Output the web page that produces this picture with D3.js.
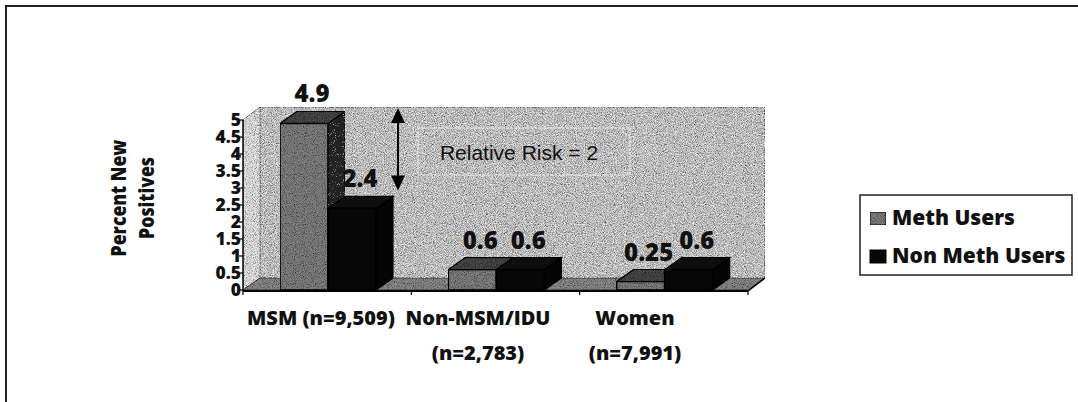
<!DOCTYPE html>
<html><head><meta charset="utf-8">
<script src="https://cdn.jsdelivr.net/npm/d3@7"></script>
<style>
html,body{margin:0;padding:0;background:#fff;}
svg{display:block;}
text{font-family:"Open Sans",sans-serif;font-weight:700;fill:#111;}
</style></head>
<body>
<svg id="chart" width="1078" height="402"></svg>
<script>
const categories = ["MSM (n=9,509)", "Non-MSM/IDU (n=2,783)", "Women (n=7,991)"];
const categoryLines = [["MSM (n=9,509)"], ["Non-MSM/IDU", "(n=2,783)"], ["Women", "(n=7,991)"]];
const seriesNames = ["Meth Users", "Non Meth Users"];
const methUsers = [4.9, 0.6, 0.25];
const nonMethUsers = [2.4, 0.6, 0.6];
const valueLabels = [["4.9", "2.4"], ["0.6", "0.6"], ["0.25", "0.6"]];
const yTicks = [0, 0.5, 1, 1.5, 2, 2.5, 3, 3.5, 4, 4.5, 5];
const yTickLabels = ["0", "0.5", "1", "1.5", "2", "2.5", "3", "3.5", "4", "4.5", "5"];
const axisTitle = ["Percent New", "Positives"];
const annotation = "Relative Risk = 2";

const svg = d3.select("#chart");
const defs = svg.append("defs");
function grain(id, seed, rgb, a, b) {
  const f = defs.append("filter").attr("id", id).attr("x", 0).attr("y", 0).attr("width", 1).attr("height", 1);
  f.append("feTurbulence").attr("type", "fractalNoise").attr("baseFrequency", 1.1).attr("numOctaves", 1).attr("seed", seed).attr("result", "noise");
  f.append("feColorMatrix").attr("in", "noise").attr("type", "matrix")
    .attr("values", `0 0 0 0 ${rgb}  0 0 0 0 ${rgb}  0 0 0 0 ${rgb}  0 0 0 ${a} ${b}`).attr("result", "dots");
  f.append("feComposite").attr("in", "dots").attr("in2", "SourceGraphic").attr("operator", "in").attr("result", "dotsIn");
  f.append("feMerge").call(m => { m.append("feMergeNode").attr("in", "SourceGraphic"); m.append("feMergeNode").attr("in", "dotsIn"); });
}
grain("grain", 3, 0, -2.2, 1.3);
grain("grainW", 5, 1, 2.4, -1.0);
grain("grainSparse", 9, 0.55, 4, -2.5);

// frame
svg.append("path").attr("d", "M6,402 V6 H1078").attr("fill", "none").attr("stroke", "#222").attr("stroke-width", 2);

const x0 = 243, x1 = 748, dx = 17, dy = -12;
const y = d3.scaleLinear().domain([0, 5]).range([290, 120]);
const xBand = d3.scaleBand().domain(categories).range([x0, x1]);
const xSeries = d3.scaleBand().domain(seriesNames).range([37, 133]);
const labelX = d3.scalePoint().domain(categories).range([321, 635]);

const g = svg.append("g");
const yTop = y(5), yBot = y(0);
const wallG = g.append("g").attr("filter", "url(#grainW)");
wallG.append("polygon").attr("points", [[x0+dx, yTop+dy-1],[x1+dx, yTop+dy-1],[x1+dx, yBot+dy],[x0+dx, yBot+dy]].join(" "))
  .attr("fill", "#b3b3b3").attr("stroke", "#333").attr("stroke-width", 1).attr("filter", "url(#grain)");
wallG.append("polygon").attr("points", [[x0, yTop],[x0+dx, yTop+dy-1],[x0+dx, yBot+dy],[x0, yBot]].join(" "))
  .attr("fill", "#d4d4d4").attr("stroke", "#555").attr("stroke-width", 0.8).attr("filter", "url(#grain)");
g.append("polygon").attr("points", [[x0, yBot],[x0+dx, yBot+dy],[x1+dx, yBot+dy],[x1, yBot]].join(" "))
  .attr("fill", "#8a8a8a").attr("stroke", "#333").attr("stroke-width", 0.8).attr("filter", "url(#grain)");

// bars
const data = [];
categories.forEach((c, i) => {
  data.push({cat: c, s: seriesNames[0], v: methUsers[i], label: valueLabels[i][0]});
  data.push({cat: c, s: seriesNames[1], v: nonMethUsers[i], label: valueLabels[i][1]});
});
const colors = {
  "Meth Users": {front: "#808080", top: "#4a4a4a", side: "#222222"},
  "Non Meth Users": {front: "#070707", top: "#0e0e0e", side: "#040404"}
};
const bars = g.selectAll("g.bar").data(data).join("g").attr("class", "bar");
bars.each(function(d) {
  const gg = d3.select(this);
  const meth = d.s === seriesNames[0];
  const bx = xBand(d.cat) + xSeries(d.s), bw = xSeries.bandwidth();
  const yt = y(d.v), yb = y(0);
  const c = colors[d.s];
  gg.append("polygon").attr("points", [[bx+bw, yt],[bx+bw+dx, yt+dy],[bx+bw+dx, yb+dy],[bx+bw, yb]].join(" "))
    .attr("fill", c.side).attr("stroke", "#000").attr("stroke-width", 1.2).attr("filter", meth ? "url(#grainSparse)" : null);
  gg.append("polygon").attr("points", [[bx, yt],[bx+bw, yt],[bx+bw+dx, yt+dy],[bx+dx, yt+dy]].join(" "))
    .attr("fill", c.top).attr("stroke", "#000").attr("stroke-width", 1.2).attr("filter", meth ? "url(#grain)" : null);
  gg.append("rect").attr("x", bx).attr("y", yt).attr("width", bw).attr("height", yb - yt)
    .attr("fill", c.front).attr("stroke", "#000").attr("stroke-width", 1.6).attr("filter", meth ? "url(#grain)" : null);
});

// axes
g.append("line").attr("x1", x0).attr("x2", x0).attr("y1", yTop).attr("y2", yBot + 1).attr("stroke", "#000").attr("stroke-width", 1.5);
g.append("line").attr("x1", x0).attr("x2", x1).attr("y1", yBot + 1).attr("y2", yBot + 1).attr("stroke", "#000").attr("stroke-width", 1.8);
g.append("line").attr("x1", x1).attr("x2", x1 + dx).attr("y1", yBot + 1).attr("y2", yBot + dy).attr("stroke", "#000").attr("stroke-width", 1.5);
g.selectAll("line.yt").data(yTicks).join("line").attr("class", "yt")
  .attr("x1", x0 - 4).attr("x2", x0).attr("y1", d => y(d)).attr("y2", d => y(d)).attr("stroke", "#000").attr("stroke-width", 1.2);
g.selectAll("text.ytl").data(yTicks).join("text").attr("class", "ytl")
  .attr("x", x0 - 2).attr("y", d => y(d) + 6).attr("text-anchor", "end").attr("font-size", 17.5)
  .style("font-weight", 800)
  .text((d, i) => yTickLabels[i]);
const bounds = categories.map(c => xBand(c)).concat([x1]);
g.selectAll("line.xt").data(bounds).join("line").attr("class", "xt")
  .attr("x1", d => d).attr("x2", d => d).attr("y1", yBot + 1).attr("y2", yBot + 5).attr("stroke", "#000").attr("stroke-width", 1.2);

// value labels
g.selectAll("text.val").data(data).join("text").attr("class", "val")
  .attr("x", d => xBand(d.cat) + xSeries(d.s) + xSeries.bandwidth() / 2 + 8)
  .attr("y", d => y(d.v) - 21)
  .attr("text-anchor", "middle").attr("font-size", 24).style("font-weight", 800)
  .text(d => d.label);

// category labels
categories.forEach((c, i) => {
  const t = g.append("text").attr("text-anchor", "middle").attr("font-size", 20).style("font-weight", 800);
  categoryLines[i].forEach((ln, j) => {
    t.append("tspan").attr("x", labelX(c)).attr("y", 325 + j * 35).text(ln);
  });
});

// axis title
axisTitle.forEach((ln, j) => {
  g.append("text").attr("transform", `translate(${126 + j * 28},198) rotate(-90) scale(0.84,1)`)
    .attr("text-anchor", "middle").attr("font-size", 21).style("font-weight", 800).text(ln);
});

// relative risk arrow + box
const ax = 398;
const arrowTop = y(5) + dy, arrowBot = y(2.4) + dy - 6;
g.append("line").attr("x1", ax).attr("x2", ax).attr("y1", arrowTop + 12).attr("y2", arrowBot - 12).attr("stroke", "#000").attr("stroke-width", 2);
g.append("polygon").attr("points", [[ax, arrowTop],[ax - 7, arrowTop + 15],[ax + 7, arrowTop + 15]].join(" ")).attr("fill", "#000");
g.append("polygon").attr("points", [[ax, arrowBot],[ax - 7, arrowBot - 15],[ax + 7, arrowBot - 15]].join(" ")).attr("fill", "#000");
g.append("rect").attr("x", 418).attr("y", 128).attr("width", 212).attr("height", 47)
  .attr("fill", "none").attr("stroke", "#eeeeee").attr("stroke-width", 1.2).attr("stroke-dasharray", "3,1");
g.append("text").attr("x", 519).attr("y", 160).attr("text-anchor", "middle")
  .style("font-family", "'Liberation Sans', Arial, sans-serif").style("font-weight", 400)
  .attr("font-size", 21).text(annotation);

// legend
const lg = svg.append("g");
lg.append("rect").attr("x", 860).attr("y", 195).attr("width", 212).attr("height", 80)
  .attr("fill", "#fff").attr("stroke", "#222").attr("stroke-width", 1.5);
seriesNames.forEach((s, i) => {
  const yy = 225 + i * 38;
  lg.append("rect").attr("x", 870).attr("y", yy - 13).attr("width", 16).attr("height", 13)
    .attr("fill", colors[s].front).attr("stroke", "#000").attr("stroke-width", 1)
    .attr("filter", i === 0 ? "url(#grain)" : null);
  lg.append("text").attr("x", 892).attr("y", yy).attr("font-size", 21).style("font-weight", 800).text(s);
});
</script>
</body></html>
